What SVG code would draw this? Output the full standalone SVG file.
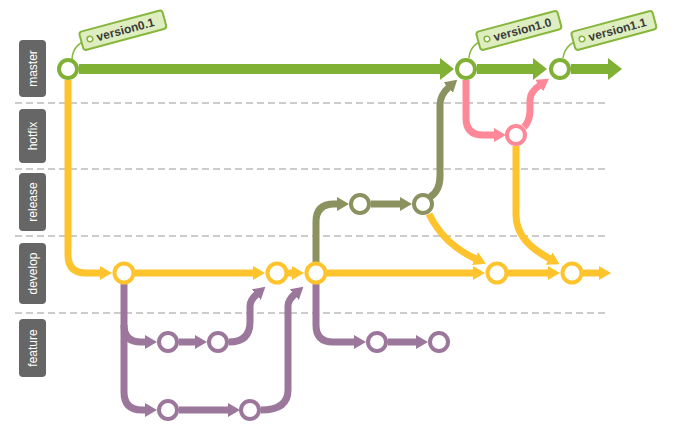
<svg xmlns="http://www.w3.org/2000/svg" width="674" height="435" viewBox="0 0 674 435">
<style>
.lane{fill:#666666}
.lt{fill:#ffffff;font-family:"Liberation Sans",Arial,sans-serif;font-size:12px;text-anchor:middle;dominant-baseline:central}
.dash{stroke:#cccccc;stroke-width:2;stroke-dasharray:7 4;fill:none}
.c{fill:none;stroke-linecap:butt;stroke-linejoin:round}
.g{stroke:#80b135;stroke-width:10}
.y{stroke:#fec42e;stroke-width:7}
.o{stroke:#8b9260;stroke-width:7}
.p{stroke:#fd8898;stroke-width:7}
.u{stroke:#9b779b;stroke-width:7}
.n{fill:#ffffff;stroke-width:4}
.tag rect{fill:#deeec0;stroke:#86b63c;stroke-width:2}
.tag circle{fill:#ffffff;stroke:#86b63c;stroke-width:1.5}
.tag text{font-family:"Liberation Sans",Arial,sans-serif;font-size:12px;font-weight:bold;fill:#3a3a3a}
.str{fill:none;stroke:#86b63c;stroke-width:1.5}
</style>
<defs>
<marker id="ag" markerUnits="userSpaceOnUse" viewBox="0 -11 14 22" markerWidth="14" markerHeight="22" refX="1" refY="0" orient="auto"><path d="M0,-11 L14,0 L0,11 z" fill="#80b135"/></marker>
<marker id="ay" markerUnits="userSpaceOnUse" viewBox="0 -7 12 14" markerWidth="12" markerHeight="14" refX="1" refY="0" orient="auto"><path d="M0,-7 L12,0 L0,7 z" fill="#fec42e"/></marker>
<marker id="ao" markerUnits="userSpaceOnUse" viewBox="0 -7 12 14" markerWidth="12" markerHeight="14" refX="1" refY="0" orient="auto"><path d="M0,-7 L12,0 L0,7 z" fill="#8b9260"/></marker>
<marker id="ap" markerUnits="userSpaceOnUse" viewBox="0 -7 12 14" markerWidth="12" markerHeight="14" refX="1" refY="0" orient="auto"><path d="M0,-7 L12,0 L0,7 z" fill="#fd8898"/></marker>
<marker id="au" markerUnits="userSpaceOnUse" viewBox="0 -7 12 14" markerWidth="12" markerHeight="14" refX="1" refY="0" orient="auto"><path d="M0,-7 L12,0 L0,7 z" fill="#9b779b"/></marker>
</defs>
<rect width="674" height="435" fill="#ffffff"/>

<g id="lanes">
<line class="dash" x1="15" y1="103" x2="608" y2="103"/>
<line class="dash" x1="15" y1="169" x2="608" y2="169"/>
<line class="dash" x1="15" y1="236" x2="608" y2="236"/>
<line class="dash" x1="15" y1="313" x2="608" y2="313"/>
<g id="lane-master"><rect class="lane" x="19" y="40" width="27" height="57" rx="4"/><text class="lt" transform="translate(32.5,68.5) rotate(-90)">master</text></g>
<g id="lane-hotfix"><rect class="lane" x="19" y="109" width="27" height="54" rx="4"/><text class="lt" transform="translate(32.5,136) rotate(-90)">hotfix</text></g>
<g id="lane-release"><rect class="lane" x="19" y="173" width="27" height="58" rx="4"/><text class="lt" transform="translate(32.5,202) rotate(-90)">release</text></g>
<g id="lane-develop"><rect class="lane" x="19" y="243" width="27" height="61" rx="4"/><text class="lt" transform="translate(32.5,273.5) rotate(-90)">develop</text></g>
<g id="lane-feature"><rect class="lane" x="19" y="319" width="27" height="58" rx="4"/><text class="lt" transform="translate(32.5,348) rotate(-90)">feature</text></g>
</g>

<g id="connectors">
<path class="c g" d="M79,69 H441" marker-end="url(#ag)"/>
<path class="c g" d="M477,69 H534" marker-end="url(#ag)"/>
<path class="c g" d="M571,69 H609" marker-end="url(#ag)"/>
<path class="c y" d="M68,80 V255 Q68,273 86,273 H101" marker-end="url(#ay)"/>
<path class="c y" d="M135,273 H254" marker-end="url(#ay)"/>
<path class="c y" d="M288,273 H293" marker-end="url(#ay)"/>
<path class="c y" d="M327,273 H474" marker-end="url(#ay)"/>
<path class="c y" d="M508,273 H549" marker-end="url(#ay)"/>
<path class="c y" d="M583,273 H600" marker-end="url(#ay)"/>
<path class="c y" d="M429,214 C440,236 455,249 476,259" marker-end="url(#ay)"/>
<path class="c y" d="M516,146 V215 C516,235 530,248 550,259" marker-end="url(#ay)"/>
<path class="c o" d="M316,262 V222 Q316,204 334,204 H338" marker-end="url(#ao)"/>
<path class="c o" d="M371,204 H401" marker-end="url(#ao)"/>
<path class="c o" d="M430,197 Q440,191 440,176 V105 Q440,95 449,87" marker-end="url(#ao)"/>
<path class="c p" d="M466,80 V118 Q466,135 483,135 H495" marker-end="url(#ap)"/>
<path class="c p" d="M524,127 Q530,121 530,110 V100 Q530,92 540,85" marker-end="url(#ap)"/>
<path class="c u" d="M124,284 V392 Q124,410 142,410 H146" marker-end="url(#au)"/>
<path class="c u" d="M124,325 Q124,342 141,342 H146" marker-end="url(#au)"/>
<path class="c u" d="M179,342 H196" marker-end="url(#au)"/>
<path class="c u" d="M229,342 Q250,342 250,322 V306 Q250,300 257,294" marker-end="url(#au)"/>
<path class="c u" d="M179,410 H229" marker-end="url(#au)"/>
<path class="c u" d="M261,410 Q288,410 288,390 V306 Q288,300 295,294" marker-end="url(#au)"/>
<path class="c u" d="M316,284 V325 Q316,342 333,342 H355" marker-end="url(#au)"/>
<path class="c u" d="M388,342 H417" marker-end="url(#au)"/>
</g>

<g id="tags">
<path class="str" d="M72,59 Q73,44 88,40"/>
<path class="str" d="M469,58 Q470,44 485,40"/>
<path class="str" d="M563,58 Q565,44 580,40"/>
<g id="tag-version0.1" class="tag" transform="translate(90,39) rotate(-15)"><rect x="-9" y="-9.5" width="86" height="19" rx="3"/><circle cx="0" cy="0" r="2.8"/><text x="7" y="4.2">version0.1</text></g>
<g id="tag-version1.0" class="tag" transform="translate(487,39) rotate(-15)"><rect x="-9" y="-9.5" width="84" height="19" rx="3"/><circle cx="0" cy="0" r="2.8"/><text x="7" y="4.2">version1.0</text></g>
<g id="tag-version1.1" class="tag" transform="translate(582,39) rotate(-15)"><rect x="-9" y="-9.5" width="84" height="19" rx="3"/><circle cx="0" cy="0" r="2.8"/><text x="7" y="4.2">version1.1</text></g>
</g>

<g id="m1"><circle class="n" cx="68" cy="69" r="9" stroke="#80b135"/></g>
<g id="m2"><circle class="n" cx="466" cy="69" r="9" stroke="#80b135"/></g>
<g id="m3"><circle class="n" cx="560" cy="69" r="9" stroke="#80b135"/></g>
<g id="h1"><circle class="n" cx="516" cy="135" r="9" stroke="#fd8898"/></g>
<g id="r1"><circle class="n" cx="360" cy="204" r="9" stroke="#8b9260"/></g>
<g id="r2"><circle class="n" cx="423" cy="204" r="9" stroke="#8b9260"/></g>
<g id="d1"><circle class="n" cx="124" cy="273" r="9.5" stroke="#fec42e"/></g>
<g id="d2"><circle class="n" cx="277" cy="273" r="9.5" stroke="#fec42e"/></g>
<g id="d3"><circle class="n" cx="316" cy="273" r="9.5" stroke="#fec42e"/></g>
<g id="d4"><circle class="n" cx="497" cy="273" r="9.5" stroke="#fec42e"/></g>
<g id="d5"><circle class="n" cx="572" cy="273" r="9.5" stroke="#fec42e"/></g>
<g id="f1"><circle class="n" cx="168" cy="342" r="9" stroke="#9b779b"/></g>
<g id="f2"><circle class="n" cx="218" cy="342" r="9" stroke="#9b779b"/></g>
<g id="f3"><circle class="n" cx="168" cy="410" r="9" stroke="#9b779b"/></g>
<g id="f4"><circle class="n" cx="250" cy="410" r="9" stroke="#9b779b"/></g>
<g id="f5"><circle class="n" cx="377" cy="342" r="9" stroke="#9b779b"/></g>
<g id="f6"><circle class="n" cx="439" cy="342" r="9" stroke="#9b779b"/></g>
</svg>
